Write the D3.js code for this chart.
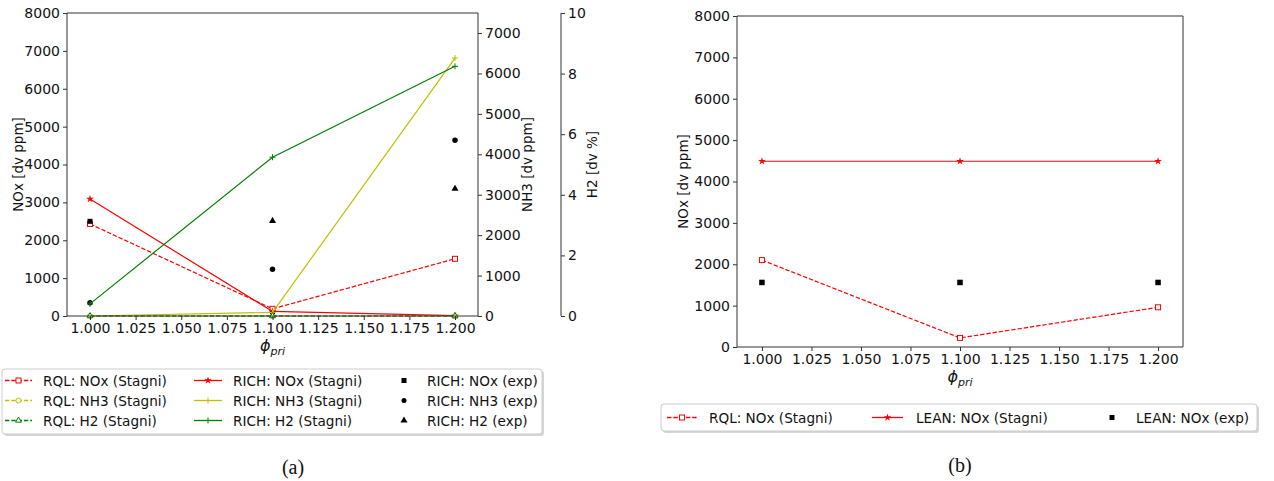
<!DOCTYPE html>
<html>
<head>
<meta charset="utf-8">
<script src="https://cdn.jsdelivr.net/npm/d3@7"></script>
<style>
  html, body { margin: 0; padding: 0; background: #fff; }
  svg { display: block; font-family: "DejaVu Sans", sans-serif; }
  .tick text { font-size: 14px; fill: #111; font-family: "DejaVu Sans", sans-serif; }
  .tick line { stroke: #333; }
  .domain { display: none; }
</style>
</head>
<body>
<svg id="fig" width="1274" height="481"></svg>
<script>
// Equivalence ratio of the primary zone
const phi = [1.0, 1.1, 1.2];
const xTicks = [1.0, 1.025, 1.05, 1.075, 1.1, 1.125, 1.15, 1.175, 1.2];

// (a) RICH burner: Stagni mechanism vs. experiment
const rqlNOx = [2430, 190, 1510];      // dv ppm
const rqlNH3 = [0, 0, 0];              // dv ppm
const rqlH2 = [0, 0, 0];               // dv %
const richNOx = [3090, 120, 10];       // dv ppm
const richNH3 = [0, 90, 6380];         // dv ppm
const richH2 = [0.40, 5.24, 8.24];     // dv %
const richNOxExp = [2500, 50, null];   // dv ppm
const richNH3Exp = [330, 1155, 4350];  // dv ppm
const richH2Exp = [null, 3.14, 4.20];  // dv %

// (b) LEAN burner
const rqlNOxB = [2100, 220, 960];
const leanNOx = [4490, 4490, 4490];
const leanNOxExp = [1560, 1560, 1560];

const noxTicks = [0, 1000, 2000, 3000, 4000, 5000, 6000, 7000, 8000];
const nh3Ticks = [0, 1000, 2000, 3000, 4000, 5000, 6000, 7000];
const h2Ticks = [0, 2, 4, 6, 8, 10];

const RED = "#ff0000", YEL = "#bfbf00", GRN = "#008000", BLK = "#000000";
const svg = d3.select("#fig");
const fmt3 = d3.format(".3f");

function spine(g, x1, y1, x2, y2) {
  g.append("line").attr("x1", x1).attr("y1", y1).attr("x2", x2).attr("y2", y2)
    .attr("stroke", "#333").attr("stroke-width", 1);
}

function marker(g, type, cx, cy, color, size) {
  const s = size;
  if (type === "square") {
    g.append("rect").attr("x", cx - s / 2).attr("y", cy - s / 2).attr("width", s).attr("height", s)
      .attr("fill", "#fff").attr("stroke", color).attr("stroke-width", 1);
  } else if (type === "fsquare") {
    g.append("rect").attr("x", cx - s / 2).attr("y", cy - s / 2).attr("width", s).attr("height", s)
      .attr("fill", color);
  } else if (type === "circle") {
    g.append("circle").attr("cx", cx).attr("cy", cy).attr("r", s / 2).attr("fill", color);
  } else if (type === "ocircle") {
    g.append("circle").attr("cx", cx).attr("cy", cy).attr("r", s / 2)
      .attr("fill", "#fff").attr("stroke", color).attr("stroke-width", 1);
  } else if (type === "triangle") {
    g.append("path").attr("d", d3.symbol(d3.symbolTriangle, s * s * 0.6)())
      .attr("transform", `translate(${cx},${cy})`).attr("fill", color);
  } else if (type === "otriangle") {
    g.append("path").attr("d", d3.symbol(d3.symbolTriangle, s * s * 0.6)())
      .attr("transform", `translate(${cx},${cy})`).attr("fill", "#fff").attr("stroke", color);
  } else if (type === "star") {
    g.append("path").attr("d", d3.symbol(d3.symbolStar, s * s * 0.9)())
      .attr("transform", `translate(${cx},${cy})`).attr("fill", color);
  } else if (type === "plus") {
    g.append("path").attr("d", `M${cx - s / 2},${cy}H${cx + s / 2}M${cx},${cy - s / 2}V${cy + s / 2}`)
      .attr("stroke", color).attr("stroke-width", 1);
  }
}

function series(g, xs, ys, vals, opts) {
  const pts = phi.map((p, i) => [p, vals[i]]).filter(d => d[1] !== null);
  if (opts.line) {
    g.append("path")
      .attr("d", d3.line().x(d => xs(d[0])).y(d => ys(d[1]))(pts))
      .attr("fill", "none").attr("stroke", opts.color).attr("stroke-width", 1.2)
      .attr("stroke-dasharray", opts.dash ? "4.4,1.9" : null);
  }
  pts.forEach(d => marker(g, opts.marker, xs(d[0]), ys(d[1]), opts.color, opts.size));
}

function xAxis(g, xs, y0) {
  g.append("g").attr("transform", `translate(0,${y0})`)
    .call(d3.axisBottom(xs).tickValues(xTicks).tickFormat(fmt3).tickSize(4).tickPadding(3));
}

function phiLabel(g, cx, y) {
  const t = g.append("text").attr("x", cx).attr("y", y).attr("text-anchor", "middle")
    .attr("font-size", 16).attr("fill", "#111");
  t.append("tspan").attr("font-style", "italic").text("ϕ");
  t.append("tspan").attr("font-style", "italic").attr("font-size", 11).attr("dy", 3.5).text("pri");
}

function yLabel(g, cx, cy, txt) {
  g.append("text").attr("transform", `translate(${cx},${cy}) rotate(-90)`)
    .attr("text-anchor", "middle").attr("dominant-baseline", "central")
    .attr("font-size", 13.5).attr("fill", "#111").text(txt);
}

function legend(g, box, items) {
  g.append("rect").attr("x", box.x + 2).attr("y", box.y + 2).attr("width", box.w).attr("height", box.h)
    .attr("rx", 3).attr("fill", "#bbb").attr("opacity", 0.6);
  g.append("rect").attr("x", box.x).attr("y", box.y).attr("width", box.w).attr("height", box.h)
    .attr("rx", 3).attr("fill", "#fff").attr("stroke", "#ccc").attr("stroke-width", 1);
  items.forEach(it => {
    if (it.line) {
      g.append("line").attr("x1", it.x1).attr("x2", it.x2).attr("y1", it.y).attr("y2", it.y)
        .attr("stroke", it.color).attr("stroke-width", 1.3)
        .attr("stroke-dasharray", it.dash ? "4.4,1.9" : null);
    }
    marker(g, it.marker, (it.x1 + it.x2) / 2, it.y, it.color, it.size);
    g.append("text").attr("x", it.tx).attr("y", it.y).attr("dominant-baseline", "central")
      .attr("font-size", 13.6).attr("fill", "#111").text(it.label);
  });
}

// ---------- (a) ----------
const A = { l: 67, r: 478, t: 13, b: 316 };
const xa = d3.scaleLinear().domain([0.9874, 1.2126]).range([A.l, A.r]);
const yNOx = d3.scaleLinear().domain([0, 8000]).range([A.b, A.t]);
const yNH3 = d3.scaleLinear().domain([0, 7495]).range([A.b, A.t]);
const yH2 = d3.scaleLinear().domain([0, 10]).range([A.b, A.t]);

const ga = svg.append("g");
const plotA = ga.append("g");
series(plotA, xa, yNOx, rqlNOx, { color: RED, dash: true, line: true, marker: "square", size: 5 });
series(plotA, xa, yNOx, richNOx, { color: RED, line: true, marker: "star", size: 4.5 });
series(plotA, xa, yNOx, richNOxExp, { color: BLK, marker: "fsquare", size: 5 });
series(plotA, xa, yNH3, rqlNH3, { color: YEL, dash: true, line: true, marker: "ocircle", size: 5 });
series(plotA, xa, yNH3, richNH3, { color: YEL, line: true, marker: "plus", size: 6 });
series(plotA, xa, yNH3, richNH3Exp, { color: BLK, marker: "circle", size: 5.5 });
series(plotA, xa, yH2, rqlH2, { color: GRN, dash: true, line: true, marker: "otriangle", size: 5 });
series(plotA, xa, yH2, richH2, { color: GRN, line: true, marker: "plus", size: 6 });
series(plotA, xa, yH2, richH2Exp, { color: BLK, marker: "triangle", size: 6 });

spine(ga, A.l, A.t, A.r, A.t);
spine(ga, A.l, A.b, A.r, A.b);
spine(ga, A.l, A.t, A.l, A.b);
spine(ga, A.r, A.t, A.r, A.b);
spine(ga, 561, A.t, 561, A.b);

xAxis(ga, xa, A.b);
ga.append("g").attr("transform", `translate(${A.l},0)`)
  .call(d3.axisLeft(yNOx).tickValues(noxTicks).tickFormat(d3.format("d")).tickSize(4).tickPadding(3));
ga.append("g").attr("transform", `translate(${A.r},0)`)
  .call(d3.axisRight(yNH3).tickValues(nh3Ticks).tickFormat(d3.format("d")).tickSize(4).tickPadding(3));
ga.append("g").attr("transform", `translate(561,0)`)
  .call(d3.axisRight(yH2).tickValues(h2Ticks).tickFormat(d3.format("d")).tickSize(4).tickPadding(3));

phiLabel(ga, (A.l + A.r) / 2, 351);
yLabel(ga, 18, (A.t + A.b) / 2, "NOx [dv ppm]");
yLabel(ga, 527, (A.t + A.b) / 2, "NH3 [dv ppm]");
yLabel(ga, 592, (A.t + A.b) / 2, "H2 [dv %]");

legend(ga, { x: 2, y: 369, w: 540, h: 65 }, [
  { x1: 5, x2: 32, y: 380.5, tx: 43, color: RED, dash: true, line: true, marker: "square", size: 5, label: "RQL: NOx (Stagni)" },
  { x1: 5, x2: 32, y: 400.5, tx: 43, color: YEL, dash: true, line: true, marker: "ocircle", size: 5, label: "RQL: NH3 (Stagni)" },
  { x1: 5, x2: 32, y: 420.5, tx: 43, color: GRN, dash: true, line: true, marker: "otriangle", size: 5, label: "RQL: H2 (Stagni)" },
  { x1: 194, x2: 222, y: 380.5, tx: 233, color: RED, line: true, marker: "star", size: 4.5, label: "RICH: NOx (Stagni)" },
  { x1: 194, x2: 222, y: 400.5, tx: 233, color: YEL, line: true, marker: "plus", size: 6, label: "RICH: NH3 (Stagni)" },
  { x1: 194, x2: 222, y: 420.5, tx: 233, color: GRN, line: true, marker: "plus", size: 6, label: "RICH: H2 (Stagni)" },
  { x1: 404, x2: 404, y: 380.5, tx: 427, color: BLK, marker: "fsquare", size: 5, label: "RICH: NOx (exp)" },
  { x1: 404, x2: 404, y: 400.5, tx: 427, color: BLK, marker: "circle", size: 5, label: "RICH: NH3 (exp)" },
  { x1: 404, x2: 404, y: 420.5, tx: 427, color: BLK, marker: "triangle", size: 6, label: "RICH: H2 (exp)" }
]);

ga.append("text").attr("x", 293).attr("y", 474).attr("text-anchor", "middle")
  .attr("font-family", "Liberation Serif, serif").attr("font-size", 20).attr("fill", "#111").text("(a)");

// ---------- (b) ----------
const B = { l: 737, r: 1183, t: 16, b: 347 };
const xb = d3.scaleLinear().domain([0.9874, 1.2126]).range([B.l, B.r]);
const yb = d3.scaleLinear().domain([0, 8000]).range([B.b, B.t]);

const gb = svg.append("g");
const plotB = gb.append("g");
series(plotB, xb, yb, rqlNOxB, { color: RED, dash: true, line: true, marker: "square", size: 5 });
series(plotB, xb, yb, leanNOx, { color: RED, line: true, marker: "star", size: 4.5 });
series(plotB, xb, yb, leanNOxExp, { color: BLK, marker: "fsquare", size: 5.5 });

spine(gb, B.l, B.t, B.r, B.t);
spine(gb, B.l, B.b, B.r, B.b);
spine(gb, B.l, B.t, B.l, B.b);
spine(gb, B.r, B.t, B.r, B.b);

xAxis(gb, xb, B.b);
gb.append("g").attr("transform", `translate(${B.l},0)`)
  .call(d3.axisLeft(yb).tickValues(noxTicks).tickFormat(d3.format("d")).tickSize(4).tickPadding(3));

phiLabel(gb, (B.l + B.r) / 2, 382);
yLabel(gb, 683, (B.t + B.b) / 2, "NOx [dv ppm]");

legend(gb, { x: 661, y: 404, w: 596, h: 27 }, [
  { x1: 667, x2: 697, y: 417.5, tx: 709, color: RED, dash: true, line: true, marker: "square", size: 5, label: "RQL: NOx (Stagni)" },
  { x1: 872, x2: 903, y: 417.5, tx: 916, color: RED, line: true, marker: "star", size: 4.5, label: "LEAN: NOx (Stagni)" },
  { x1: 1112, x2: 1112, y: 417.5, tx: 1136, color: BLK, marker: "fsquare", size: 5, label: "LEAN: NOx (exp)" }
]);

gb.append("text").attr("x", 960).attr("y", 472).attr("text-anchor", "middle")
  .attr("font-family", "Liberation Serif, serif").attr("font-size", 20).attr("fill", "#111").text("(b)");
</script>
</body>
</html>
